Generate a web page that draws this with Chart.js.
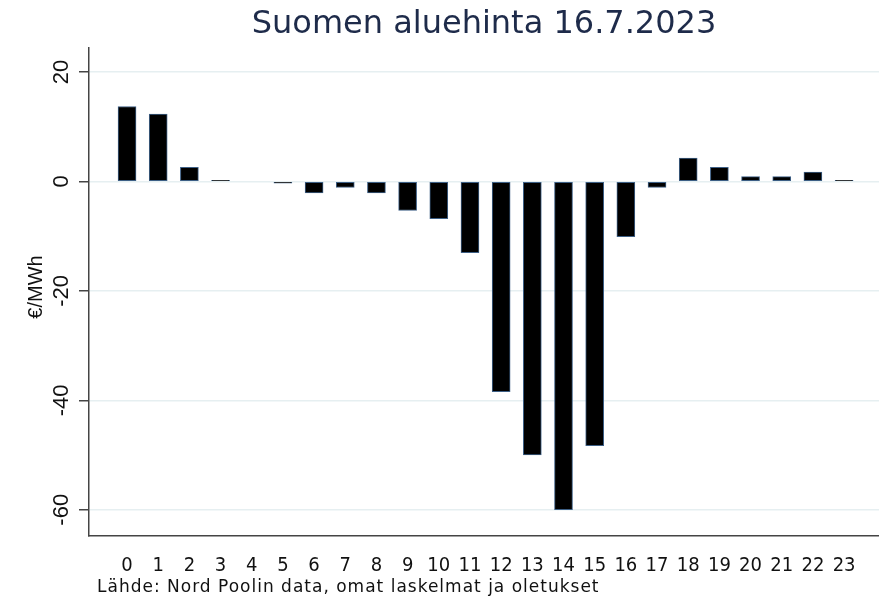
<!DOCTYPE html>
<html>
<head>
<meta charset="utf-8">
<script src="https://cdn.jsdelivr.net/npm/chart.js@4"></script>
<style>
  body { margin: 0; background: #fff; }
  #wrap { width: 879px; height: 600px; }
</style>
</head>
<body>
<div id="wrap"><canvas id="priceChart"></canvas></div>
<script>
// hours of the day and area price (€/MWh)
const hours = [0, 1, 2, 3, 4, 5, 6, 7, 8, 9, 10, 11, 12, 13, 14, 15, 16, 17, 18, 19, 20, 21, 22, 23];
const prices = [13.7, 12.3, 2.6, 0.2, 0, -0.3, -2.1, -1.1, -2.1, -5.3, -6.8, -13.0, -38.4, -50.0, -60.0, -48.3, -10.1, -1.1, 4.3, 2.6, 0.9, 0.9, 1.7, 0.2];
const yTicks = [-60, -40, -20, 0, 20];

const titleText = "Suomen aluehinta 16.7.2023";
const yTitle = "€/MWh";
const sourceText = "Lähde: Nord Poolin data, omat laskelmat ja oletukset";

// title, footnote, y title and rotated y labels
const extraText = {
    id: "extraText",
    afterDraw(chart) {
        const ctx = chart.ctx;
        const area = chart.chartArea;
        const y = chart.scales.y;
        ctx.save();
        ctx.fillStyle = "#1e2b4a";
        ctx.font = "32px 'DejaVu Sans'";
        ctx.textAlign = "center";
        ctx.textBaseline = "middle";
        ctx.fillText(titleText, (area.left + area.right) / 2, 25);

        ctx.fillStyle = "#111";
        ctx.font = "17px 'DejaVu Sans'";
        ctx.letterSpacing = "1px";
        ctx.textAlign = "left";
        ctx.fillText(sourceText, 97, 588);
        ctx.letterSpacing = "0px";

        ctx.textAlign = "center";
        ctx.font = "20px 'Liberation Sans'";
        ctx.save();
        ctx.translate(36, 287);
        ctx.rotate(-Math.PI / 2);
        ctx.fillText(yTitle, 0, 0);
        ctx.restore();

        ctx.font = "22px 'Liberation Sans'";
        yTicks.forEach(v => {
            ctx.save();
            ctx.translate(62, y.getPixelForValue(v));
            ctx.rotate(-Math.PI / 2);
            ctx.fillText(String(v), 0, 0);
            ctx.restore();
        });
        ctx.restore();
    }
};

new Chart(document.getElementById("priceChart"), {
    type: "bar",
    data: {
        datasets: [{
            data: hours.map((h, i) => ({ x: h, y: prices[i] })),
            backgroundColor: "#000",
            borderColor: "#3d5f85",
            borderWidth: 1,
            borderSkipped: false,
            barThickness: 18
        }]
    },
    options: {
        responsive: true,
        maintainAspectRatio: false,
        animation: false,
        layout: { padding: { top: 48, right: 0, left: 0, bottom: 0 } },
        plugins: {
            legend: { display: false },
            tooltip: { enabled: false }
        },
        scales: {
            x: {
                type: "linear",
                offset: false,
                min: -1.22,
                max: 24.12,
                afterBuildTicks: s => { s.ticks = hours.map(h => ({ value: h })); },
                afterFit: s => { s.height = 64; },
                grid: { display: false, drawTicks: false },
                border: { color: "#444", width: 1.5 },
                ticks: {
                    color: "#111",
                    padding: 18,
                    maxRotation: 0,
                    autoSkip: false,
                    font: { family: "'DejaVu Sans Condensed', 'DejaVu Sans'", size: 20 },
                    callback: v => String(v)
                }
            },
            y: {
                min: -64.8,
                max: 24.4,
                afterBuildTicks: s => { s.ticks = yTicks.map(v => ({ value: v })); },
                afterFit: s => { s.width = 89; },
                grid: { color: "#e6eff1", lineWidth: 1.5, tickColor: "#444", tickLength: 10 },
                border: { color: "#444", width: 1.5 },
                ticks: { display: false }
            }
        }
    },
    plugins: [extraText]
});
</script>
</body>
</html>
